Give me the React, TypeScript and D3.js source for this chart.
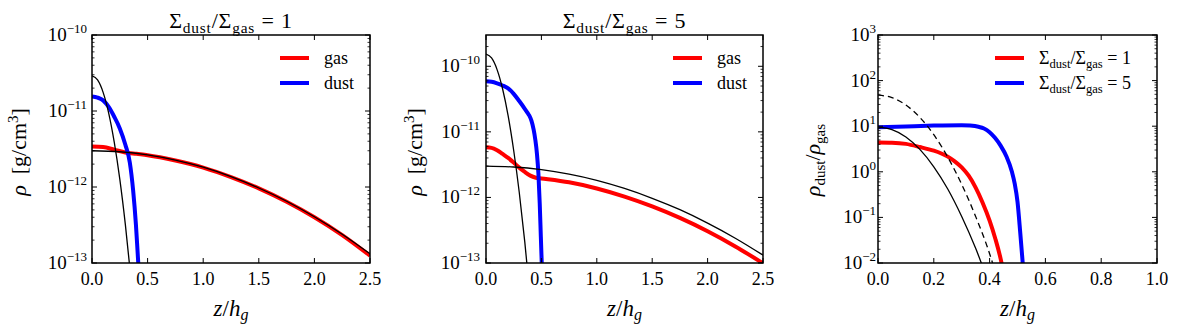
import React from 'react';
import * as d3 from 'd3';

type Pt = [number, number];

// left & middle panels: z/h_g vs rho [g/cm^3]
const gasSigma1: Pt[] = [
  [0, 3.4e-12], [0.1, 3.35e-12], [0.2, 3.1e-12], [0.3, 2.85e-12], [0.4, 2.73e-12],
  [0.5, 2.62e-12], [0.75, 2.23e-12], [1.0, 1.8e-12], [1.25, 1.35e-12], [1.5, 9.6e-13],
  [1.75, 6.4e-13], [2.0, 4.0e-13], [2.25, 2.33e-13], [2.5, 1.25e-13],
];
const dustSigma1: Pt[] = [
  [0, 1.55e-11], [0.05, 1.5e-11], [0.1, 1.38e-11], [0.15, 1.13e-11], [0.2, 8.4e-12],
  [0.25, 5.9e-12], [0.3, 3.6e-12], [0.34, 2.1e-12], [0.37, 9e-13], [0.395, 3.2e-13],
  [0.416, 1e-13], [0.43, 5e-14],
];
const gasGauss: Pt[] = [
  [0, 3.0e-12], [0.25, 2.91e-12], [0.5, 2.65e-12], [0.75, 2.26e-12], [1.0, 1.82e-12],
  [1.25, 1.37e-12], [1.5, 9.7e-13], [1.75, 6.5e-13], [2.0, 4.06e-13], [2.25, 2.39e-13],
  [2.5, 1.32e-13],
];
const dustGauss1: Pt[] = [
  [0, 2.9e-11], [0.05, 2.56e-11], [0.1, 1.76e-11], [0.15, 9.4e-12], [0.2, 3.9e-12],
  [0.25, 1.27e-12], [0.3, 3.2e-13], [0.35, 6.3e-14],
];
const gasSigma5: Pt[] = [
  [0, 5.8e-12], [0.05, 5.7e-12], [0.1, 5.25e-12], [0.15, 4.6e-12], [0.2, 4.0e-12],
  [0.25, 3.4e-12], [0.3, 2.85e-12], [0.35, 2.45e-12], [0.4, 2.15e-12], [0.45, 2.0e-12],
  [0.5, 1.95e-12], [0.75, 1.7e-12], [1.0, 1.37e-12], [1.25, 1.03e-12], [1.5, 7.3e-13],
  [1.75, 4.87e-13], [2.0, 3.05e-13], [2.25, 1.79e-13], [2.5, 9.9e-14],
];
const dustSigma5: Pt[] = [
  [0, 5.9e-11], [0.05, 5.8e-11], [0.1, 5.5e-11], [0.15, 5.1e-11], [0.2, 4.6e-11],
  [0.25, 3.8e-11], [0.3, 2.95e-11], [0.35, 2.25e-11], [0.375, 1.95e-11], [0.39, 1.78e-11],
  [0.41, 1.48e-11], [0.43, 1.08e-11], [0.445, 7.6e-12], [0.46, 4.6e-12], [0.473, 2.3e-12],
  [0.485, 8e-13], [0.495, 2.5e-13], [0.505, 8e-14],
];
const dustGauss5: Pt[] = [
  [0, 1.53e-10], [0.05, 1.34e-10], [0.1, 8.9e-11], [0.15, 4.5e-11], [0.2, 1.75e-11],
  [0.25, 5.2e-12], [0.3, 1.2e-12], [0.35, 2.1e-13], [0.4, 2.8e-14],
];

// right panel: rho_dust / rho_gas
const ratioSigma1: Pt[] = [
  [0, 4.4], [0.05, 4.35], [0.1, 4.1], [0.15, 3.5], [0.2, 2.9], [0.225, 2.55], [0.25, 2.15],
  [0.275, 1.7], [0.3, 1.25], [0.325, 0.82], [0.35, 0.45], [0.375, 0.21], [0.4, 0.085],
  [0.42, 0.035], [0.44, 0.012], [0.45, 0.006],
];
const ratioSigma5: Pt[] = [
  [0, 9.5], [0.1, 9.9], [0.2, 10.3], [0.3, 10.5], [0.33, 10.3], [0.36, 9.7], [0.38, 8.9],
  [0.4, 7.4], [0.42, 5.5], [0.44, 3.7], [0.46, 2.2], [0.48, 1.0], [0.49, 0.55], [0.5, 0.22],
  [0.51, 0.045], [0.52, 0.008],
];
const ratioGauss1: Pt[] = [
  [0, 9.5], [0.05, 8.4], [0.1, 5.8], [0.15, 3.1], [0.2, 1.29], [0.25, 0.42], [0.3, 0.105],
  [0.35, 0.021], [0.4, 0.0032],
];
const ratioGauss5: Pt[] = [
  [0, 48], [0.05, 42.3], [0.1, 29.1], [0.15, 15.6], [0.2, 6.5], [0.25, 2.1], [0.3, 0.53],
  [0.35, 0.105], [0.4, 0.016], [0.42, 0.0065],
];

const zTicks = [0, 0.5, 1.0, 1.5, 2.0, 2.5];
const zTicksRatio = [0, 0.2, 0.4, 0.6, 0.8, 1.0];
const rhoExps1 = [-13, -12, -11, -10];
const rhoExps5 = [-13, -12, -11, -10];
const ratioExps = [-2, -1, 0, 1, 2, 3];

const FONT = "'Liberation Serif', 'Times New Roman', serif";
const TOP = 35;
const BOTTOM = 263;

type Series = { data: Pt[]; color: string; width: number; dash?: string };
type Legend = { color: string; label: React.ReactNode }[];

const SigmaRatio = ({ n, size }: { n: number; size: number }) => (
  <>
    <tspan>Σ</tspan>
    <tspan dy={size * 0.22} fontSize={size * 0.7}>dust</tspan>
    <tspan dy={-size * 0.22}>/Σ</tspan>
    <tspan dy={size * 0.22} fontSize={size * 0.7}>gas</tspan>
    <tspan dy={-size * 0.22}>{`\u00a0=\u00a0${n}`}</tspan>
  </>
);

function Panel(props: {
  id: string;
  left: number;
  right: number;
  xDomain: [number, number];
  yDomain: [number, number];
  xTicks: number[];
  yExps: number[];
  series: Series[];
  title?: React.ReactNode;
  legend: Legend;
  legendX: number;
  yLabel: React.ReactNode;
  yLabelX: number;
  yLabelY: number;
  tickLabelX: number;
}) {
  const { left, right } = props;
  const x = d3.scaleLinear().domain(props.xDomain).range([left, right]);
  const y = d3.scaleLog().domain(props.yDomain).range([BOTTOM, TOP]);
  const line = d3
    .line<Pt>()
    .x((d) => x(d[0]))
    .y((d) => y(d[1]))
    .curve(d3.curveMonotoneX);

  const [lo, hi] = props.yDomain;
  const minor: number[] = [];
  for (let k = Math.floor(Math.log10(lo)); k <= Math.ceil(Math.log10(hi)); k++) {
    for (let m = 2; m <= 9; m++) {
      const v = m * Math.pow(10, k);
      if (v > lo && v < hi) minor.push(v);
    }
  }
  const cx = (left + right) / 2;

  return (
    <g>
      <defs>
        <clipPath id={props.id}>
          <rect x={left} y={TOP} width={right - left} height={BOTTOM - TOP} />
        </clipPath>
      </defs>
      <g clipPath={`url(#${props.id})`}>
        {props.series.map((s, i) => (
          <path
            key={i}
            d={line(s.data) || ''}
            fill="none"
            stroke={s.color}
            strokeWidth={s.width}
            strokeDasharray={s.dash}
          />
        ))}
      </g>
      {/* ticks */}
      {props.xTicks.map((t) => (
        <g key={'xt' + t} stroke="#000" strokeWidth={1}>
          <line x1={x(t)} x2={x(t)} y1={BOTTOM} y2={BOTTOM - 5} />
          <line x1={x(t)} x2={x(t)} y1={TOP} y2={TOP + 5} />
        </g>
      ))}
      {props.yExps.map((e) => (
        <g key={'yt' + e} stroke="#000" strokeWidth={1}>
          <line x1={left} x2={left + 5} y1={y(Math.pow(10, e))} y2={y(Math.pow(10, e))} />
          <line x1={right} x2={right - 5} y1={y(Math.pow(10, e))} y2={y(Math.pow(10, e))} />
        </g>
      ))}
      {minor.map((v, i) => (
        <g key={'mt' + i} stroke="#000" strokeWidth={0.8}>
          <line x1={left} x2={left + 2.5} y1={y(v)} y2={y(v)} />
          <line x1={right} x2={right - 2.5} y1={y(v)} y2={y(v)} />
        </g>
      ))}
      <rect x={left} y={TOP} width={right - left} height={BOTTOM - TOP} fill="none" stroke="#000" strokeWidth={1.5} />
      {/* tick labels */}
      {props.xTicks.map((t) => (
        <text key={'xl' + t} x={x(t)} y={285} textAnchor="middle" fontSize={18} fontFamily={FONT}>
          {t.toFixed(1)}
        </text>
      ))}
      {props.yExps.map((e) => (
        <text key={'yl' + e} x={props.tickLabelX} y={y(Math.pow(10, e)) + 6} textAnchor="end" fontSize={19} fontFamily={FONT}>
          10
          <tspan dy={-8} fontSize={13}>{e < 0 ? '\u2212' + -e : String(e)}</tspan>
        </text>
      ))}
      {/* axis labels */}
      <text x={cx} y={316} textAnchor="middle" fontSize={23} fontFamily={FONT}>
        <tspan fontStyle="italic">z</tspan>
        <tspan>/</tspan>
        <tspan fontStyle="italic">h</tspan>
        <tspan fontStyle="italic" fontSize={16} dy={4}>g</tspan>
      </text>
      <text
        transform={`translate(${props.yLabelX},${props.yLabelY}) rotate(-90)`}
        textAnchor="middle"
        fontSize={22}
        fontFamily={FONT}
      >
        {props.yLabel}
      </text>
      {props.title && (
        <text x={cx} y={28} textAnchor="middle" fontSize={22} fontFamily={FONT} letterSpacing={0.8}>
          {props.title}
        </text>
      )}
      {/* legend */}
      {props.legend.map((l, i) => (
        <g key={'lg' + i}>
          <line
            x1={props.legendX}
            x2={props.legendX + 29}
            y1={58 + i * 25}
            y2={58 + i * 25}
            stroke={l.color}
            strokeWidth={4}
          />
          <text x={props.legendX + 44} y={64 + i * 25} fontSize={18} fontFamily={FONT}>
            {l.label}
          </text>
        </g>
      ))}
    </g>
  );
}

const rhoLabel = (
  <>
    <tspan fontStyle="italic">ρ</tspan>
    <tspan>{'\u00a0\u00a0[g/cm'}</tspan>
    <tspan dy={-8} fontSize={15}>3</tspan>
    <tspan dy={8}>]</tspan>
  </>
);

const ratioLabel = (
  <>
    <tspan fontStyle="italic">ρ</tspan>
    <tspan dy={5} fontSize={15}>dust</tspan>
    <tspan dy={-5}>/</tspan>
    <tspan fontStyle="italic">ρ</tspan>
    <tspan dy={5} fontSize={15}>gas</tspan>
  </>
);

export default function App() {
  const RED = '#ff0000';
  const BLUE = '#0000ff';
  return (
    <svg width={1178} height={328} style={{ position: 'absolute', left: 0, top: 0, background: '#fff' }}>
      <Panel
        id="c1"
        left={92}
        right={370}
        xDomain={[0, 2.5]}
        yDomain={[1e-13, 1e-10]}
        xTicks={zTicks}
        yExps={rhoExps1}
        series={[
          { data: gasSigma1, color: RED, width: 4 },
          { data: dustSigma1, color: BLUE, width: 4 },
          { data: gasGauss, color: '#000', width: 1.3 },
          { data: dustGauss1, color: '#000', width: 1.3 },
        ]}
        title={<SigmaRatio n={1} size={22} />}
        legend={[
          { color: RED, label: 'gas' },
          { color: BLUE, label: 'dust' },
        ]}
        legendX={280}
        yLabel={rhoLabel}
        yLabelX={26}
        yLabelY={152}
        tickLabelX={87}
      />
      <Panel
        id="c2"
        left={486}
        right={763}
        xDomain={[0, 2.5]}
        yDomain={[1e-13, 3e-10]}
        xTicks={zTicks}
        yExps={rhoExps5}
        series={[
          { data: gasSigma5, color: RED, width: 4 },
          { data: dustSigma5, color: BLUE, width: 4 },
          { data: gasGauss, color: '#000', width: 1.3 },
          { data: dustGauss5, color: '#000', width: 1.3 },
        ]}
        title={<SigmaRatio n={5} size={22} />}
        legend={[
          { color: RED, label: 'gas' },
          { color: BLUE, label: 'dust' },
        ]}
        legendX={673}
        yLabel={rhoLabel}
        yLabelX={422}
        yLabelY={152}
        tickLabelX={480}
      />
      <Panel
        id="c3"
        left={878}
        right={1157}
        xDomain={[0, 1]}
        yDomain={[1e-2, 1e3]}
        xTicks={zTicksRatio}
        yExps={ratioExps}
        series={[
          { data: ratioSigma1, color: RED, width: 4 },
          { data: ratioSigma5, color: BLUE, width: 4 },
          { data: ratioGauss1, color: '#000', width: 1.3 },
          { data: ratioGauss5, color: '#000', width: 1.3, dash: '6,4' },
        ]}
        legend={[
          { color: RED, label: <SigmaRatio n={1} size={18} /> },
          { color: BLUE, label: <SigmaRatio n={5} size={18} /> },
        ]}
        legendX={995}
        yLabel={ratioLabel}
        yLabelX={820}
        yLabelY={160}
        tickLabelX={876}
      />
    </svg>
  );
}
